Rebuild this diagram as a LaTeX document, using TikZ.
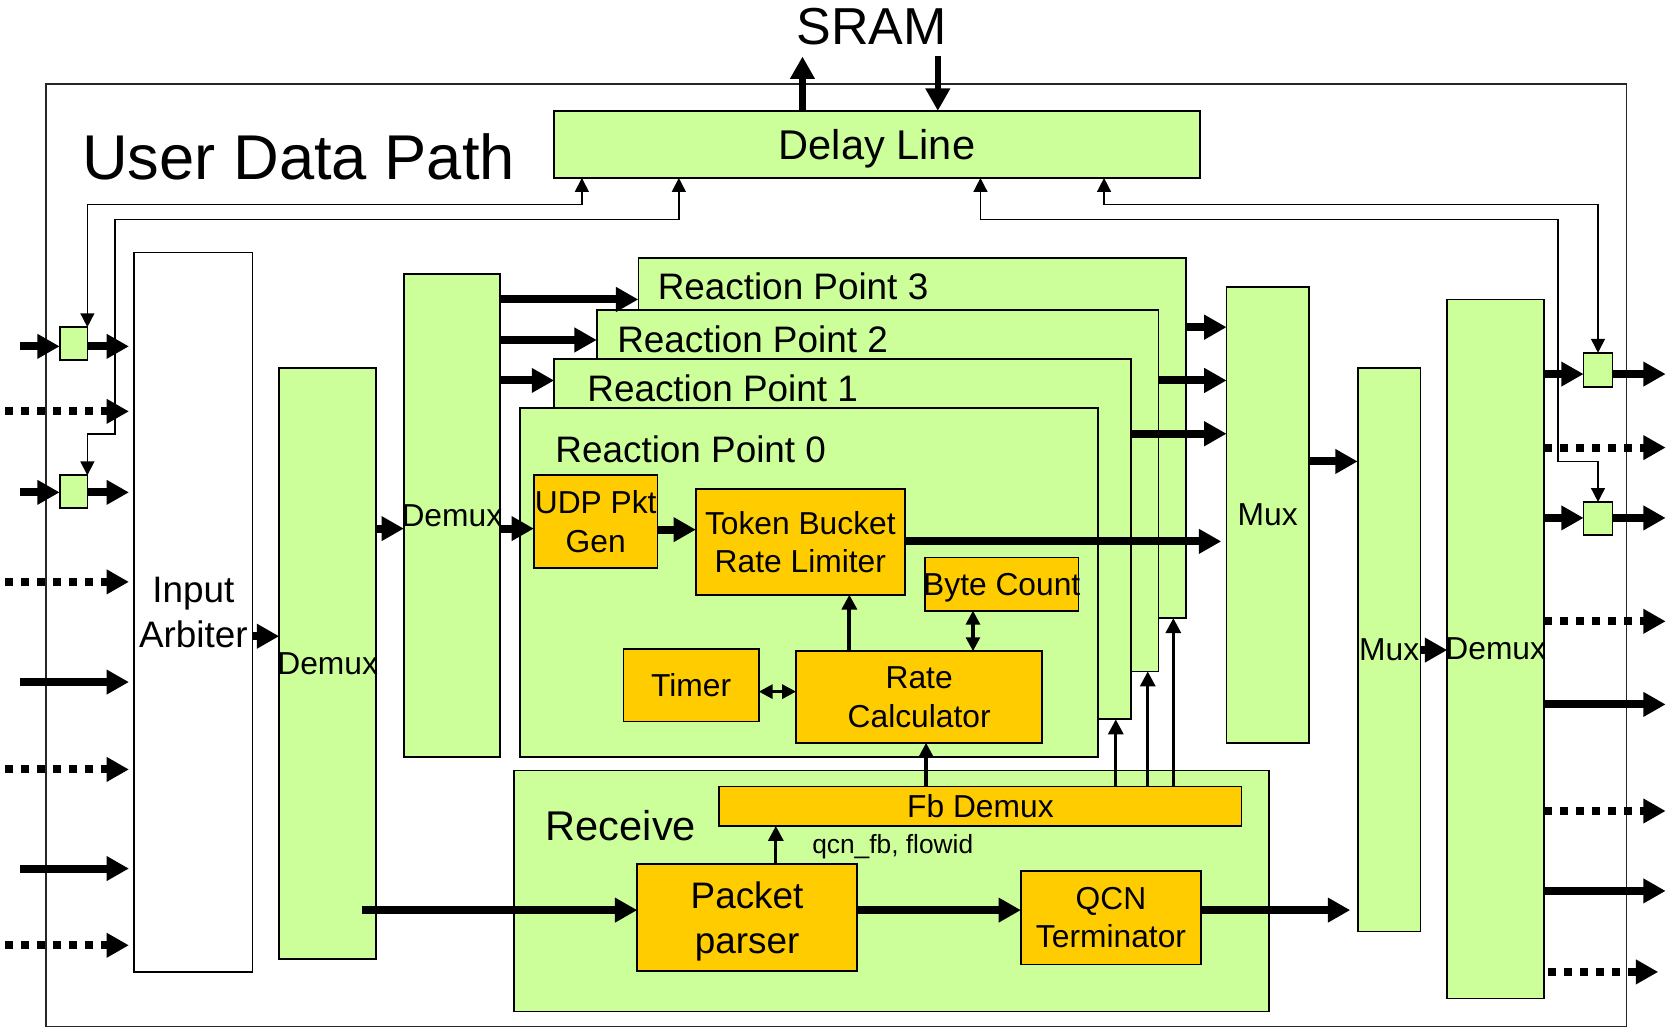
\documentclass[tikz,border=0pt]{standalone}
\usepackage{fontspec}
\setmainfont{Liberation Sans}
\usetikzlibrary{arrows.meta}
\definecolor{boxgreen}{HTML}{CCFF99}
\definecolor{boxgold}{HTML}{FFCC00}

\begin{document}
\begin{tikzpicture}[x=1pt,y=-1pt,
  blk/.style={draw=black, line width=1.6pt, inner sep=0pt, outer sep=0pt, text depth=0pt},
  grn/.style={blk, fill=boxgreen},
  gld/.style={blk, fill=boxgold},
  wht/.style={blk, fill=white},
  caption/.style={anchor=base west, inner sep=0pt},
  f24/.style={font=\fontsize{24.7}{30}\selectfont},
  f30/.style={font=\fontsize{29.8}{36}\selectfont},
  f35/.style={font=\fontsize{34.6}{41.5}\selectfont},
  f39/.style={font=\fontsize{39}{46}\selectfont},
  bus/.style={line width=7.5pt, -{Triangle[length=21pt,width=22pt]}},
  dotbus/.style={bus, dash pattern=on 7.5pt off 7.5pt},
  memarrow/.style={line width=6pt, -{Triangle[length=21pt,width=22pt]}},
  link/.style={line width=1.5pt, {Triangle[length=13pt,width=13pt]}-{Triangle[length=13pt,width=13pt]}},
  sig/.style={line width=3pt, -{Triangle[length=14pt,width=14pt]}},
  ctl/.style={line width=4pt, -{Triangle[length=14pt,width=14pt]}},
  ctlboth/.style={line width=3pt, {Triangle[length=13pt,width=13pt]}-{Triangle[length=13pt,width=13pt]}}
]
\useasboundingbox (0,0) rectangle (1568,964);

% enclosing block and titles
\node[blk, draw=black!85, line width=1.4pt, minimum width=1483pt, minimum height=884pt] (outer) at (784.5,521) {};
\node[caption, font=\fontsize{59.4}{70}\selectfont] (udptitle) at (77,168) {User Data Path};
\node[anchor=base, inner sep=0pt, font=\fontsize{48.8}{58}\selectfont] (sram) at (818,42) {SRAM};

% delay line
\node[grn, minimum width=606pt, minimum height=63pt, f39] (dl) at (823,135.5) {Delay Line};

% input side
\node[wht, minimum width=111pt, minimum height=675pt, f35, align=center] (arb) at (181.5,574.5) {Input\\Arbiter};
\node[grn, minimum width=91pt, minimum height=555pt, f30] (dmx1) at (307.5,622.5) {\makebox[0pt]{Demux}};
\node[grn, minimum width=90pt, minimum height=453pt, f30] (dmx2) at (424,483.5) {\makebox[0pt]{Demux}};
\node[grn, minimum width=26pt, minimum height=31pt] (l1) at (69,322.5) {};
\node[grn, minimum width=26pt, minimum height=31pt] (l2) at (69,461.5) {};

% reaction points, back to front
\node[grn, minimum width=514pt, minimum height=338pt] (rp3) at (856,411) {};
\node[grn, minimum width=527pt, minimum height=339pt] (rp2) at (823.5,460.5) {};
\node[grn, minimum width=541pt, minimum height=338pt] (rp1) at (790.5,506) {};
\node[grn, minimum width=542pt, minimum height=327pt] (rp0) at (759,546.5) {};
\node[f35, caption] (t3) at (617,281) {Reaction Point 3};
\node[f35, caption] (t2) at (579,331) {Reaction Point 2};
\node[f35, caption] (t1) at (551,377) {Reaction Point 1};
\node[f35, caption] (t0) at (521,434) {Reaction Point 0};

% reaction point 0 internals
\node[gld, minimum width=116pt, minimum height=87pt, f30, align=center] (udp) at (559,489.5) {UDP Pkt\\Gen};
\node[gld, minimum width=196pt, minimum height=99pt, f30, align=center] (tb) at (751,508.5) {Token Bucket\\Rate Limiter};
\node[gld, minimum width=144pt, minimum height=50pt, f30] (bc) at (940,548) {\makebox[0pt]{Byte Count}};
\node[gld, minimum width=127pt, minimum height=68pt, f30] (timer) at (648.5,643) {Timer};
\node[gld, minimum width=231pt, minimum height=86pt, f30, align=center] (rc) at (862.5,654) {Rate\\Calculator};

% receive path
\node[grn, minimum width=709pt, minimum height=226pt] (rx) at (836.5,836) {};
\node[f39, caption] (rxlabel) at (512,789) {Receive};
\node[gld, minimum width=490pt, minimum height=37pt, f30] (fb) at (920,756.5) {Fb Demux};
\node[gld, minimum width=206pt, minimum height=100pt, f35, align=center] (pp) at (701,861) {Packet\\parser};
\node[gld, minimum width=169pt, minimum height=88pt, f30, align=center] (qcn) at (1042.5,861) {QCN\\Terminator};
\node[f24, caption] (fblabel) at (762,801) {qcn\_fb, flowid};

% output side
\node[grn, minimum width=77pt, minimum height=428pt, f30] (mux1) at (1189.5,483) {Mux};
\node[grn, minimum width=59pt, minimum height=529pt, f30] (mux2) at (1303.5,609.5) {\makebox[0pt]{Mux}};
\node[grn, minimum width=91pt, minimum height=656pt, f30] (dmx3) at (1403.5,609) {\makebox[0pt]{Demux}};
\node[grn, minimum width=27pt, minimum height=32pt] (r1) at (1499.5,347) {};
\node[grn, minimum width=27pt, minimum height=31pt] (r2) at (1499.5,486.5) {};

% free ends of the external ports
\coordinate (i1) at (19,325);
\coordinate (i2) at (5,386);
\coordinate (i3) at (19,462);
\coordinate (i4) at (5,546);
\coordinate (i5) at (19,640);
\coordinate (i6) at (5,722);
\coordinate (i7) at (19,815);
\coordinate (i8) at (5,887);
\coordinate (o1) at (1563,351);
\coordinate (o2) at (1563,420);
\coordinate (o3) at (1563,486);
\coordinate (o4) at (1563,583);
\coordinate (o5) at (1563,661);
\coordinate (o6) at (1563,761);
\coordinate (o7) at (1563,836);
\coordinate (o8) at (1556,912);
\coordinate (memout) at (753,53);
\coordinate (memin) at (880,53);
\coordinate (d1out) at (340,854);

% delay line taps
\draw[link] (dl.south -| 546,0) -- (546,192) -| (l1.north east);
\draw[link] (dl.south -| 637,0) -- (637,206) -- (108,206) -- (108,407) -| (l2.north east);
\draw[link] (dl.south -| 920,0) -- (920,206) -- (1462,206) -- (1462,433) -| (r2.north);
\draw[link] (dl.south -| 1036,0) -- (1036,192) -| (r1.north);

% SRAM interface
\draw[memarrow] (dl.north -| memout) -- (memout);
\draw[memarrow] (memin) -- (dl.north -| memin);

% inputs
\draw[bus] (i1) -- (l1.west |- i1);
\draw[bus, shorten >=5pt] (l1.east |- i1) -- (arb.west |- i1);
\draw[dotbus, shorten >=5pt] (i2) -- (arb.west |- i2);
\draw[bus] (i3) -- (l2.west |- i3);
\draw[bus, shorten >=5pt] (l2.east |- i3) -- (arb.west |- i3);
\draw[dotbus, shorten >=5pt] (i4) -- (arb.west |- i4);
\draw[bus, shorten >=5pt] (i5) -- (arb.west |- i5);
\draw[dotbus, shorten >=5pt] (i6) -- (arb.west |- i6);
\draw[bus, shorten >=5pt] (i7) -- (arb.west |- i7);
\draw[dotbus, shorten >=5pt] (i8) -- (arb.west |- i8);

% main data flow
\draw[bus] (arb.east |- 0,597) -- (dmx1.west |- 0,597);
\draw[bus] (dmx1.east |- 0,496) -- (dmx2.west |- 0,496);
\draw[bus] (d1out) -- (pp.west |- d1out);
\draw[bus] (dmx2.east |- 0,281) -- (rp3.west |- 0,281);
\draw[bus] (dmx2.east |- 0,319) -- (rp2.west |- 0,319);
\draw[bus] (dmx2.east |- 0,357) -- (rp1.west |- 0,357);
\draw[bus] (dmx2.east |- 0,496) -- (udp.west |- 0,496);
\draw[bus] (udp.east |- 0,497) -- (tb.west |- 0,497);
\draw[bus, shorten >=5pt] (tb.east |- 0,508) -- (mux1.west |- 0,508);
\draw[bus] (rp3.east |- 0,307) -- (mux1.west |- 0,307);
\draw[bus] (rp2.east |- 0,357) -- (mux1.west |- 0,357);
\draw[bus] (rp1.east |- 0,407) -- (mux1.west |- 0,407);
\draw[bus] (mux1.east |- 0,433) -- (mux2.west |- 0,433);
\draw[bus] (mux2.east |- 0,610) -- (dmx3.west |- 0,610);
\draw[bus] (pp.east |- 0,854) -- (qcn.west |- 0,854);
\draw[bus, shorten >=7pt] (qcn.east |- 0,854) -- (mux2.west |- 0,854);

% control inside the reaction point
\draw[ctl] (rc.north -| 797,0) -- (tb.south -| 797,0);
\draw[ctlboth] (bc.south -| 913,0) -- (rc.north -| 913,0);
\draw[ctlboth] (timer.east |- 0,649) -- (rc.west |- 0,649);

% feedback distribution
\draw[sig] (pp.north -| 728,0) -- (fb.south -| 728,0);
\draw[sig] (fb.north -| 869,0) -- (rc.south -| 869,0);
\draw[sig] (fb.north -| 1047,0) -- (rp1.south -| 1047,0);
\draw[sig] (fb.north -| 1077,0) -- (rp2.south -| 1077,0);
\draw[sig] (fb.north -| 1101,0) -- (rp3.south -| 1101,0);

% outputs
\draw[bus] (dmx3.east |- o1) -- (r1.west |- o1);
\draw[bus] (r1.east |- o1) -- (o1);
\draw[dotbus] (dmx3.east |- o2) -- (o2);
\draw[bus] (dmx3.east |- o3) -- (r2.west |- o3);
\draw[bus] (r2.east |- o3) -- (o3);
\draw[dotbus] (dmx3.east |- o4) -- (o4);
\draw[bus] (dmx3.east |- o5) -- (o5);
\draw[dotbus] (dmx3.east |- o6) -- (o6);
\draw[bus] (dmx3.east |- o7) -- (o7);
\draw[dotbus, shorten <=4pt] (dmx3.east |- o8) -- (o8);
\end{tikzpicture}
\end{document}
